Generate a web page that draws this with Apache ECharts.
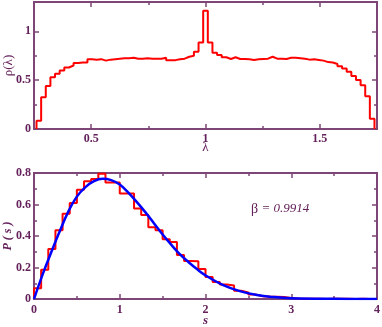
<!DOCTYPE html>
<html>
<head>
<meta charset="utf-8">
<script src="https://cdn.jsdelivr.net/npm/echarts@6/dist/echarts.min.js"></script>
<style>
  html, body { margin: 0; padding: 0; background: #fff; }
  #chart { width: 382px; height: 327px; }
</style>
</head>
<body>
<div id="chart"></div>
<script>
// top panel: density of eigenvalues, 73 equal bins over lambdaRange
const lambdaRange = [0.261, 1.739]
const rhoValues = [
  0.085, 0.325, 0.44, 0.53, 0.565, 0.60, 0.63, 0.65, 0.675, 0.68,
  0.68, 0.715, 0.71, 0.715, 0.70, 0.71, 0.715, 0.72, 0.725, 0.725,
  0.73, 0.72, 0.72, 0.725, 0.72, 0.72, 0.72, 0.73, 0.705, 0.705,
  0.715, 0.72, 0.74, 0.75, 0.79, 0.885, 1.21, 0.885, 0.78, 0.758,
  0.735, 0.717, 0.735, 0.717, 0.717, 0.714, 0.707, 0.714, 0.717, 0.72,
  0.74, 0.72, 0.72, 0.717, 0.73, 0.73, 0.725, 0.72, 0.71, 0.714,
  0.707, 0.70, 0.685, 0.68, 0.665, 0.643, 0.62, 0.587, 0.543, 0.502,
  0.447, 0.335, 0.105
]

// bottom panel: spacing histogram, bins of width 1/12 starting at 0
const spacingBin = 1 / 12
const spacingValues = [
  0.068, 0.186, 0.317, 0.436, 0.542, 0.61, 0.694, 0.747, 0.762, 0.796,
  0.74, 0.74, 0.67, 0.67, 0.575, 0.533, 0.455, 0.436, 0.38, 0.362,
  0.279, 0.242, 0.24, 0.19, 0.14, 0.108, 0.092, 0.086, 0.052, 0.042,
  0.028, 0.018, 0.016, 0.015, 0.012, 0.006, 0.003, 0.002, 0.001, 0.002,
  0, 0.001, 0.002, 0.001, 0, 0.001, 0, 0
]

// fitted curve (beta = 0.9914)
const fitS = [0, 0.1, 0.2, 0.3, 0.4, 0.5, 0.6, 0.7, 0.8, 0.9, 1.0, 1.1, 1.2, 1.3, 1.4,
  1.5, 1.6, 1.7, 1.8, 1.9, 2.0, 2.2, 2.4, 2.6, 2.8, 3.0, 3.5, 4.0]
const fitP = [0, 0.155, 0.295, 0.43, 0.555, 0.65, 0.71, 0.748, 0.763, 0.755, 0.727, 0.675,
  0.615, 0.55, 0.48, 0.41, 0.345, 0.285, 0.235, 0.19, 0.15, 0.09, 0.05, 0.025, 0.012,
  0.005, 0.001, 0]

// ticks
const lambdaTicks = [0.5, 1, 1.5]
const lambdaMinor = [0.75, 1.25]
const rhoTicks = [0, 0.5, 1]
const rhoMinor = [0.25, 0.75]
const sTicks = [0, 1, 2, 3, 4]
const sMinor = [0.5, 1.5, 2.5, 3.5]
const pTicks = [0, 0.2, 0.4, 0.6, 0.8]
const pMinor = [0.1, 0.3, 0.5, 0.7]

const frameColor = '#7e4676'
const textColor = '#64205a'
const serif = '"Liberation Serif", "DejaVu Serif", serif'

// histogram outline as step line: edges from x0 with given width
function stepData(x0, width, values) {
  const pts = [[x0, 0]]
  values.forEach((v, i) => pts.push([x0 + i * width, v]))
  const xEnd = x0 + values.length * width
  pts.push([xEnd, values[values.length - 1]])
  pts.push([xEnd, 0])
  return pts
}

function makeAxis(gridIndex, position, range, ticks, tickLen, label, name) {
  const ax = {
    type: 'value', gridIndex, position, min: range[0], max: range[1],
    axisLine: { show: true, onZero: false, lineStyle: { color: frameColor, width: 2 } },
    axisTick: { show: true, inside: true, length: tickLen, customValues: ticks,
      lineStyle: { color: frameColor, width: 1.5 } },
    axisLabel: { show: false },
    splitLine: { show: false },
    nameMoveOverlap: false
  }
  if (label) {
    ax.axisLabel = {
      show: true, customValues: ticks, margin: label.margin,
      color: textColor, fontFamily: serif, fontWeight: 'bold', fontSize: 12,
      formatter: v => String(v)
    }
  }
  if (name) Object.assign(ax, name)
  return ax
}

const lamStep = (lambdaRange[1] - lambdaRange[0]) / rhoValues.length
const lamAxis = [0.25, 1.75]
const rhoAxis = [0, 1.3]
const sAxis = [0, 4]
const pAxis = [0, 0.8]

const chart = echarts.init(document.getElementById('chart'))
chart.setOption({
  animation: false,
  grid: [
    { left: 34, right: 5, top: 2, height: 127, containLabel: false, outerBoundsMode: 'none' },
    { left: 34, right: 5, top: 173, height: 126, containLabel: false, outerBoundsMode: 'none' }
  ],
  xAxis: [
    makeAxis(0, 'bottom', lamAxis, lambdaTicks, 5, { margin: 4 }, {
      name: 'λ', nameLocation: 'middle', nameGap: 12,
      nameTextStyle: { color: textColor, fontFamily: serif, fontSize: 13 }
    }),
    makeAxis(0, 'bottom', lamAxis, lambdaMinor, 3),
    makeAxis(0, 'top', lamAxis, lambdaTicks, 5),
    makeAxis(0, 'top', lamAxis, lambdaMinor, 3),
    makeAxis(1, 'bottom', sAxis, sTicks, 5, { margin: 5 }, {
      name: 's', nameLocation: 'middle', nameGap: 15,
      nameTextStyle: { color: textColor, fontFamily: serif, fontSize: 13, fontWeight: 'bold', fontStyle: 'italic' }
    }),
    makeAxis(1, 'bottom', sAxis, sMinor, 3),
    makeAxis(1, 'top', sAxis, sTicks, 5),
    makeAxis(1, 'top', sAxis, sMinor, 3)
  ],
  yAxis: [
    makeAxis(0, 'left', rhoAxis, rhoTicks, 5, { margin: 3 }, {
      name: 'ρ(λ)', nameLocation: 'middle', nameGap: 19, nameRotate: 90,
      nameTextStyle: { color: textColor, fontFamily: serif, fontSize: 13 }
    }),
    makeAxis(0, 'left', rhoAxis, rhoMinor, 3),
    makeAxis(0, 'right', rhoAxis, rhoTicks, 5),
    makeAxis(0, 'right', rhoAxis, rhoMinor, 3),
    makeAxis(1, 'left', pAxis, pTicks, 5, { margin: 3 }, {
      name: 'P ( s )', nameLocation: 'middle', nameGap: 20, nameRotate: 90,
      nameTextStyle: { color: textColor, fontFamily: serif, fontSize: 12, fontWeight: 'bold', fontStyle: 'italic' }
    }),
    makeAxis(1, 'left', pAxis, pMinor, 3),
    makeAxis(1, 'right', pAxis, pTicks, 5),
    makeAxis(1, 'right', pAxis, pMinor, 3)
  ],
  series: [
    {
      type: 'line', xAxisIndex: 0, yAxisIndex: 0, step: 'end', symbol: 'none',
      data: stepData(lambdaRange[0], lamStep, rhoValues),
      lineStyle: { color: '#ff0000', width: 2 }
    },
    {
      type: 'line', xAxisIndex: 4, yAxisIndex: 4, step: 'end', symbol: 'none',
      data: stepData(0, spacingBin, spacingValues),
      lineStyle: { color: '#ff0000', width: 2 }
    },
    {
      type: 'line', xAxisIndex: 4, yAxisIndex: 4, symbol: 'none', smooth: 0.4,
      data: fitS.map((s, i) => [s, fitP[i]]),
      lineStyle: { color: '#0000ff', width: 2.5 }
    }
  ],
  graphic: [{
    type: 'text', left: 251, top: 202,
    style: {
      text: '{b|β} {v|= 0.9914}',
      rich: {
        b: { fontFamily: serif, fontSize: 14, fill: textColor },
        v: { fontFamily: serif, fontSize: 13, fontStyle: 'italic', fill: textColor }
      }
    }
  }]
})
</script>
</body>
</html>
